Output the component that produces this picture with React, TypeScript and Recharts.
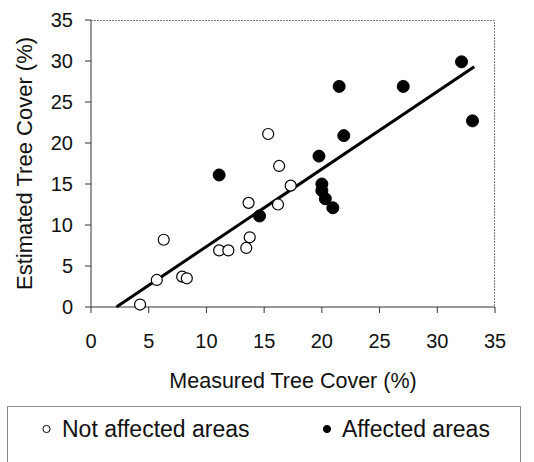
import { ScatterChart, Scatter, XAxis, YAxis, Legend } from "recharts";

// values
const notAffected = [
  { x: 4.25, y: 0.3 },
  { x: 5.7, y: 3.3 },
  { x: 6.3, y: 8.2 },
  { x: 7.9, y: 3.7 },
  { x: 8.3, y: 3.5 },
  { x: 11.1, y: 6.9 },
  { x: 11.9, y: 6.9 },
  { x: 13.45, y: 7.2 },
  { x: 13.75, y: 8.5 },
  { x: 13.65, y: 12.7 },
  { x: 15.35, y: 21.1 },
  { x: 16.3, y: 17.2 },
  { x: 16.2, y: 12.5 },
  { x: 17.3, y: 14.8 },
];

const affected = [
  { x: 11.1, y: 16.1 },
  { x: 14.6, y: 11.1 },
  { x: 19.75, y: 18.4 },
  { x: 20.0, y: 15.0 },
  { x: 20.0, y: 14.2 },
  { x: 20.3, y: 13.2 },
  { x: 20.95, y: 12.1 },
  { x: 21.5, y: 26.9 },
  { x: 21.9, y: 20.9 },
  { x: 27.05, y: 26.9 },
  { x: 32.1, y: 29.9 },
  { x: 33.05, y: 22.7 },
];

// regression line end points
const fitLine = [
  { x: 2.2, y: 0 },
  { x: 33.2, y: 29.3 },
];

const ticks = [0, 5, 10, 15, 20, 25, 30, 35];

const NOT_AFFECTED = "Not affected areas";
const AFFECTED = "Affected areas";

const font = "'Liberation Sans', Arial, sans-serif";
const ink = "#111";
const MARGIN = { top: 20, right: 39, bottom: 55, left: 0 };

const OpenDot = (props: any) => (
  <circle cx={props.cx} cy={props.cy} r={5.5} fill="#fff" stroke="#000" strokeWidth={1.2} />
);

const FilledDot = (props: any) => (
  <circle cx={props.cx} cy={props.cy} r={6} fill="#000" stroke="#000" />
);

const NoDot = () => <g />;

// x title plus the grey top/right edges of the plot frame
const XTitle = (props: any) => {
  const { x, y, width, height } = props.viewBox;
  const top = MARGIN.top + 0.5;
  const right = x + width - 0.5;
  return (
    <g>
      <path
        d={`M${x},${top} H${right} V${y}`}
        fill="none"
        stroke="#7a7a7a"
        strokeWidth={1}
        strokeDasharray="2 1"
      />
      <text
        x={x + width / 2}
        y={y + height - 19}
        textAnchor="middle"
        fontSize={21.5}
        fontFamily={font}
        fill={ink}
      >
        Measured Tree Cover (%)
      </text>
    </g>
  );
};

const YTitle = (props: any) => {
  const { x, y, height } = props.viewBox;
  const cx = x + 24;
  const cy = y + height / 2;
  return (
    <text
      x={cx}
      y={cy}
      transform={`rotate(-90 ${cx} ${cy})`}
      textAnchor="middle"
      dominantBaseline="central"
      fontSize={22}
      fontFamily={font}
      fill={ink}
    >
      Estimated Tree Cover (%)
    </text>
  );
};

// legend slots: marker centre and text start, relative to the box
const slotFor: Record<string, { mx: number; tx: number }> = {
  [NOT_AFFECTED]: { mx: 39.5, tx: 55 },
  [AFFECTED]: { mx: 320, tx: 335 },
};

const LegendBox = (props: any) => {
  const items = props.payload || [];
  return (
    <svg width={514} height={60} style={{ display: "block" }}>
      <rect x={0.5} y={0.5} width={513} height={70} fill="#fff" stroke="#8a8a8a" strokeWidth={1} />
      {items.map((it: any) => {
        const s = slotFor[it.value];
        if (!s) return null;
        const filled = it.value === AFFECTED;
        return (
          <g key={it.value}>
            <circle
              cx={s.mx}
              cy={23}
              r={3.6}
              fill={filled ? "#000" : "#fff"}
              stroke="#000"
              strokeWidth={1}
            />
            <text x={s.tx} y={31} fontSize={23} fontFamily={font} fill={ink}>
              {it.value}
            </text>
          </g>
        );
      })}
    </svg>
  );
};

export default function App() {
  return (
    <div
      style={{
        position: "absolute",
        left: 0,
        top: 0,
        width: 534,
        height: 462,
        overflow: "hidden",
        background: "#fff",
      }}
    >
      <ScatterChart width={534} height={462} margin={MARGIN}>
        <XAxis
          type="number"
          dataKey="x"
          domain={[0, 35]}
          ticks={ticks}
          height={100}
          tickSize={6}
          tickMargin={21}
          stroke="#333"
          tick={{ fontSize: 20, fill: ink, fontFamily: font }}
          label={<XTitle />}
        />
        <YAxis
          type="number"
          dataKey="y"
          domain={[0, 35]}
          ticks={ticks}
          width={91}
          tickSize={6}
          tickMargin={12}
          stroke="#333"
          tick={{ fontSize: 20, fill: ink, fontFamily: font }}
          label={<YTitle />}
        />
        <Scatter
          data={fitLine}
          line={{ stroke: "#000", strokeWidth: 3 }}
          shape={NoDot}
          legendType="none"
          isAnimationActive={false}
        />
        <Scatter name={NOT_AFFECTED} data={notAffected} shape={OpenDot} isAnimationActive={false} />
        <Scatter name={AFFECTED} data={affected} shape={FilledDot} isAnimationActive={false} />
        <Legend
          layout="horizontal"
          verticalAlign="middle"
          align="center"
          content={<LegendBox />}
          wrapperStyle={{ left: 7, top: 406, width: 514, height: 60 }}
        />
      </ScatterChart>
    </div>
  );
}
